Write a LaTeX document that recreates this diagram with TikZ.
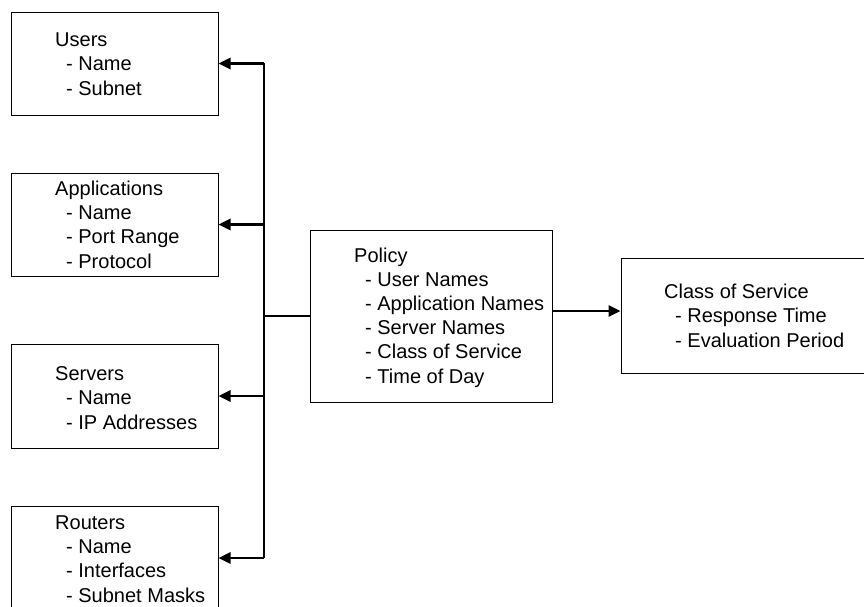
\documentclass[tikz,border=0pt]{standalone}
\usepackage{fontspec}
\setmainfont{Liberation Sans}
\usetikzlibrary{arrows.meta}
\newcommand\ind{\hspace*{11pt}}
\tikzset{
  box/.style={draw=black, line width=1pt, rectangle, inner sep=0pt},
  % multi-line text: the base anchor sits on the last line's baseline
  txt/.style={anchor=base west, align=left, inner sep=0pt,
              font=\fontsize{20}{24.2}\selectfont},
  conn/.style={draw=black, line width=2.8pt},
  arr/.style={conn, -{Triangle[length=12pt,width=11pt]}},
}
\begin{document}
\begin{tikzpicture}[x=1pt,y=-1pt]
  \useasboundingbox (0,0) rectangle (864,606);
  \fill[white] (0,0) rectangle (864,606);
  \clip (0,0) rectangle (864,606);

  % entity boxes
  \node[box, minimum width=207pt, minimum height=103pt] (users) at (114.5,63.5) {};
  \node[box, minimum width=207pt, minimum height=103pt] (apps)  at (114.5,224.5) {};
  \node[box, minimum width=207pt, minimum height=104pt] (servers) at (114.5,396) {};
  \node[box, minimum width=207pt, minimum height=104pt] (routers) at (114.5,558) {};
  \node[box, minimum width=242pt, minimum height=172pt] (policy) at (431,316) {};
  \node[box, minimum width=259pt, minimum height=115pt] (cos) at (750.5,315.5) {};

  % box contents
  \node[txt] (users-text) at (55,95) {Users\\\ind- Name\\\ind- Subnet};
  \node[txt] (apps-text) at (55,268) {Applications\\\ind- Name\\\ind- Port Range\\\ind- Protocol};
  \node[txt] (servers-text) at (55,429) {Servers\\\ind- Name\\\ind- IP Addresses};
  \node[txt] (routers-text) at (55,602) {Routers\\\ind- Name\\\ind- Interfaces\\\ind- Subnet Masks};
  \node[txt] (policy-text) at (354,383) {Policy\\\ind- User Names\\\ind- Application Names\\\ind- Server Names\\\ind- Class of Service\\\ind- Time of Day};
  \node[txt] (cos-text) at (664,347) {Class of Service\\\ind- Response Time\\\ind- Evaluation Period};

  % distribution bus
  \coordinate (bustop) at (264,63);
  \coordinate (busbot) at (264,558);
  \coordinate (cosrow) at (0,311);
  \draw[conn] (bustop) -- (busbot);
  \draw[conn] (policy.west -| bustop) -- (policy.west);
  \draw[arr] (users.east -| bustop) -- (users.east);
  \draw[arr] (apps.east -| bustop) -- (apps.east);
  \draw[arr] (servers.east -| bustop) -- (servers.east);
  \draw[arr] (routers.east -| bustop) -- (routers.east);
  \draw[arr] (policy.east |- cosrow) -- (cos.west |- cosrow);
\end{tikzpicture}
\end{document}
